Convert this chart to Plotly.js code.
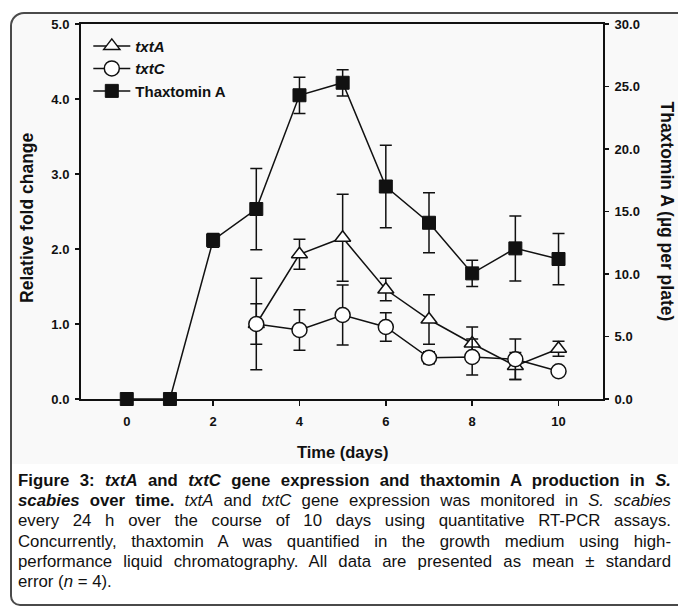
<!DOCTYPE html>
<html>
<head>
<meta charset="utf-8">
<script src="https://cdn.plot.ly/plotly-3.0.1.min.js"></script>
<style>
  html, body { margin: 0; padding: 0; background: #ffffff; }
  #wrap { position: relative; width: 678px; height: 608px; overflow: hidden; background: #ffffff; }
  #chartbg { position: absolute; left: 12px; top: 14px; width: 666px; height: 450px; background: #f9f9f9; }
  #frame { position: absolute; left: 10px; top: 12px; width: 700px; height: 594px;
           border: 2px solid #4a4a4a; border-top-left-radius: 14px; border-bottom-left-radius: 10px; box-sizing: border-box; }
  #plot { position: absolute; left: 0; top: 0; width: 678px; height: 608px; }
  #caption { position: absolute; left: 18px; top: 471px; width: 653px;
             font-family: "Liberation Sans", Arial, Helvetica, sans-serif;
             font-size: 16.8px; line-height: 20.2px; color: #111; }
  #caption .ln { text-align: justify; text-align-last: justify; white-space: nowrap; }
  #caption .last { text-align: left; text-align-last: left; }
</style>
</head>
<body>
<div id="wrap">
  <div id="chartbg"></div>
  <div id="frame"></div>
  <div id="plot"></div>
  <div id="caption">
    <div class="ln"><b>Figure 3: <i>txtA</i> and <i>txtC</i> gene expression and thaxtomin A production in <i>S.</i></b></div>
    <div class="ln"><b><i>scabies</i> over time.</b> <i>txtA</i> and <i>txtC</i> gene expression was monitored in <i>S. scabies</i></div>
    <div class="ln">every 24 h over the course of 10 days using quantitative RT-PCR assays.</div>
    <div class="ln">Concurrently, thaxtomin A was quantified in the growth medium using high-</div>
    <div class="ln">performance liquid chromatography. All data are presented as mean ± standard</div>
    <div class="ln last">error (<i>n</i> = 4).</div>
  </div>
</div>
<script>
// ---- data ----
const geneDays = [3, 4, 5, 6, 7, 8, 9, 10];
const txtA     = [1.00, 1.93, 2.15, 1.46, 1.06, 0.74, 0.44, 0.67];
const txtAErr  = [0.27, 0.20, 0.58, 0.15, 0.33, 0.22, 0.18, 0.10];
const txtC     = [1.00, 0.92, 1.12, 0.96, 0.55, 0.56, 0.53, 0.37];
const txtCErr  = [0.61, 0.27, 0.40, 0.19, 0.08, 0.24, 0.27, 0.00];
const thxDays  = [0, 1, 2, 3, 4, 5, 6, 7, 8, 9, 10];
const thaxA    = [0, 0, 12.7, 15.2, 24.3, 25.3, 17.0, 14.1, 10.05, 12.05, 11.2];
const thaxAErr = [0, 0, 0.55, 3.25, 1.45, 1.05, 3.3, 2.4, 1.05, 2.6, 2.05];
const xTicks   = [0, 2, 4, 6, 8, 10];
const yTicks   = [0, 1, 2, 3, 4, 5];
const y2Ticks  = [0, 5, 10, 15, 20, 25, 30];

const FONT = '"Liberation Sans", Arial, Helvetica, sans-serif';
const INK = "#111111";

function errBar(arr) {
  return { type: "data", array: arr, visible: true, color: INK, thickness: 1.5, width: 6 };
}

const traces = [
  {
    x: geneDays, y: txtA, name: "<b><i>txtA</i></b>", type: "scatter", mode: "lines+markers",
    yaxis: "y", cliponaxis: false,
    line: { color: INK, width: 1.5 },
    marker: { symbol: "triangle-up", size: 14, color: "#ffffff", line: { color: INK, width: 1.5 } },
    error_y: errBar(txtAErr)
  },
  {
    x: geneDays, y: txtC, name: "<b><i>txtC</i></b>", type: "scatter", mode: "lines+markers",
    yaxis: "y", cliponaxis: false,
    line: { color: INK, width: 1.5 },
    marker: { symbol: "circle", size: 15, color: "#ffffff", line: { color: INK, width: 1.5 } },
    error_y: errBar(txtCErr)
  },
  {
    x: thxDays, y: thaxA, name: "<b>Thaxtomin A</b>", type: "scatter", mode: "lines+markers",
    yaxis: "y2", cliponaxis: false,
    line: { color: INK, width: 1.5 },
    marker: { symbol: "square", size: 13, color: INK, line: { color: INK, width: 1 } },
    error_y: errBar(thaxAErr)
  }
];

const tickFont = { family: FONT, size: 13, color: INK, weight: "bold" };

const layout = {
  width: 678, height: 608,
  margin: { l: 81, r: 75, t: 24, b: 209, pad: 0 },
  paper_bgcolor: "rgba(0,0,0,0)",
  plot_bgcolor: "rgba(0,0,0,0)",
  font: { family: FONT, color: INK },
  showlegend: true,
  legend: {
    x: 0.014, y: 0.985, xanchor: "left", yanchor: "top",
    bgcolor: "rgba(0,0,0,0)", borderwidth: 0,
    font: { family: FONT, size: 15, color: INK },
    itemwidth: 37, tracegroupgap: 0
  },
  xaxis: {
    range: [-1.06, 11.03], tickvals: xTicks, ticktext: xTicks.map(String),
    ticks: "outside", ticklen: 5, tickwidth: 1.5, tickcolor: INK,
    showline: true, linecolor: INK, linewidth: 2, mirror: true,
    showgrid: false, zeroline: false, tickfont: tickFont, ticklabelstandoff: 4
  },
  yaxis: {
    range: [0, 5], tickvals: yTicks, ticktext: yTicks.map(v => v.toFixed(1)),
    ticks: "outside", ticklen: 4, tickwidth: 1.5, tickcolor: INK,
    showline: true, linecolor: INK, linewidth: 2,
    showgrid: false, zeroline: false, tickfont: tickFont, ticklabelstandoff: 3
  },
  yaxis2: {
    range: [0, 30], tickvals: y2Ticks, ticktext: y2Ticks.map(v => v.toFixed(1)),
    overlaying: "y", side: "right",
    ticks: "outside", ticklen: 4, tickwidth: 1.5, tickcolor: INK,
    showline: true, linecolor: INK, linewidth: 2,
    showgrid: false, zeroline: false, tickfont: tickFont, ticklabelstandoff: 3
  },
  annotations: [
    { text: "<b>Time (days)</b>", xref: "paper", yref: "paper", x: 0.5, y: -0.1413,
      xanchor: "center", yanchor: "middle", showarrow: false,
      font: { family: FONT, size: 16.5, color: INK } },
    { text: "<b>Relative fold change</b>", xref: "paper", yref: "paper", x: -0.1034, y: 0.483,
      xanchor: "center", yanchor: "middle", showarrow: false, textangle: -90,
      font: { family: FONT, size: 17.5, color: INK } },
    { text: "<b>Thaxtomin A (µg per plate)</b>", xref: "paper", yref: "paper", x: 1.1245, y: 0.5,
      xanchor: "center", yanchor: "middle", showarrow: false, textangle: 90,
      font: { family: FONT, size: 17.5, color: INK } }
  ]
};

Plotly.newPlot("plot", traces, layout, { staticPlot: true, displayModeBar: false });
</script>
</body>
</html>
